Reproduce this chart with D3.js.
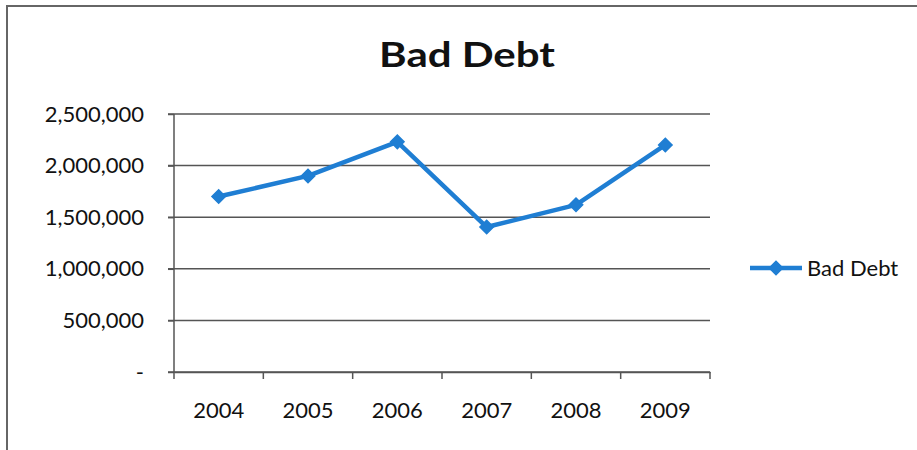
<!DOCTYPE html>
<html><head><meta charset="utf-8">
<script src="https://cdn.jsdelivr.net/npm/d3@7"></script>
<style>body{margin:0;background:#fff}svg{display:block}</style>
</head><body><svg id="c" width="917" height="450"></svg>
<script>
const years = ["2004","2005","2006","2007","2008","2009"];
const badDebt = [1700000, 1900000, 2230000, 1405000, 1620000, 2200000];
const yTicks = [0, 500000, 1000000, 1500000, 2000000, 2500000];
const title = "Bad Debt";
const seriesName = "Bad Debt";

const svg = d3.select("#c");
const font = "Lato, 'Open Sans', sans-serif";
const blue = "#1f7ed3";
const grid = "#555";

// chart frame
svg.append("path").attr("d","M7,452 L7,6 L920,6").attr("fill","none").attr("stroke","#666").attr("stroke-width",2);

const x = d3.scaleBand().domain(years).range([174, 710]);
const y = d3.scaleLinear().domain([0, 2500000]).range([372, 114]);

// gridlines
svg.append("g").selectAll("line").data(yTicks).join("line")
  .attr("x1",168).attr("x2",710).attr("y1",d=>y(d)).attr("y2",d=>y(d))
  .attr("stroke",grid).attr("stroke-width",1.5);

// y axis
const yAxis = d3.axisLeft(y).tickValues(yTicks).tickSize(6).tickPadding(24)
  .tickFormat(d => d === 0 ? "-" : d3.format(",")(d));
const gy = svg.append("g").attr("transform","translate(174,0)").call(yAxis);
gy.select(".domain").attr("stroke",grid).attr("stroke-width",1.5).attr("d","M0,114V372");
gy.selectAll(".tick line").attr("stroke",grid).attr("stroke-width",1.5);
gy.selectAll("text").attr("font-family",font).attr("font-size",22).attr("fill","#111");

// x axis
const xAxis = d3.axisBottom(x).tickSize(0).tickPadding(30);
const gx = svg.append("g").attr("transform","translate(0,372)").call(xAxis);
gx.select(".domain").attr("stroke",grid).attr("stroke-width",1.5);
gx.selectAll("text").attr("font-family",font).attr("font-size",22).attr("fill","#111");
// category boundary ticks
const bounds = years.map(d=>x(d)).concat([x.range()[1]]);
gx.append("g").selectAll("line").data(bounds).join("line")
  .attr("x1",d=>d).attr("x2",d=>d).attr("y1",0).attr("y2",7)
  .attr("stroke",grid).attr("stroke-width",1.5);

// line
const cx = d => x(d) + x.bandwidth()/2;
const line = d3.line().x((d,i)=>cx(years[i])).y(d=>y(d));
svg.append("path").datum(badDebt).attr("d",line).attr("fill","none")
  .attr("stroke",blue).attr("stroke-width",4.5).attr("stroke-linejoin","round");

const diamond = d3.symbol().type(d3.symbolSquare).size(90);
svg.append("g").selectAll("path").data(badDebt).join("path")
  .attr("d",diamond())
  .attr("transform",(d,i)=>`translate(${cx(years[i])},${y(d)}) rotate(45)`)
  .attr("fill",blue).attr("stroke",blue).attr("stroke-width",1.5);

// title
svg.append("text").attr("transform","translate(467,67) scale(1.2,1)").attr("text-anchor","middle")
  .attr("font-family",font).attr("font-weight","bold").attr("font-size",35).attr("fill","#111")
  .text(title);

// legend
const lg = svg.append("g");
lg.append("line").attr("x1",750).attr("x2",802).attr("y1",268).attr("y2",268)
  .attr("stroke",blue).attr("stroke-width",4.5);
lg.append("path").attr("d",diamond()).attr("transform","translate(776,268) rotate(45)")
  .attr("fill",blue).attr("stroke",blue).attr("stroke-width",1.5);
lg.append("text").attr("x",807).attr("y",276).attr("font-family",font).attr("font-size",22)
  .attr("fill","#111").text(seriesName);
</script></body></html>
